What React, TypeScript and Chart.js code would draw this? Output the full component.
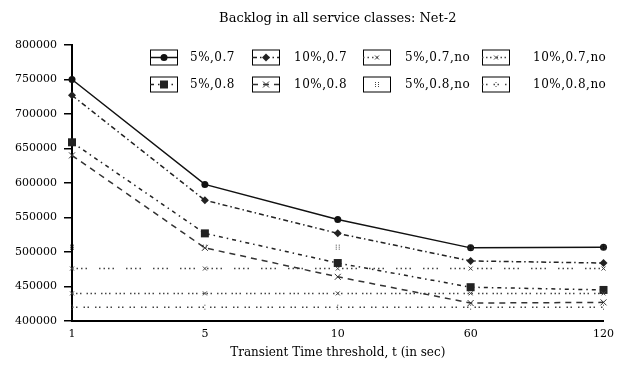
import React, { useEffect, useRef } from "react";
import { Chart, registerables } from "chart.js";
Chart.register(...registerables);

const categories = ["1", "5", "10", "60", "120"];
const s5p07 = [750000, 598000, 547000, 506000, 507000];
const s10p07 = [727000, 575000, 527000, 487000, 484000];
const s5p08 = [659000, 527000, 484000, 449000, 445000];
const s10p08 = [640000, 506000, 464000, 426000, 427000];
const s5p07no = [476000, 476000, 476000, 476000, 476000];
const s10p07no = [440000, 440000, 440000, 440000, 440000];
const s5p08no = [507000, 507000, 507000, 507000, 507000];
const s10p08no = [420000, 420000, 420000, 420000, 420000];
const yMin = 400000;
const yMax = 800000;
const yStep = 50000;

const titleText = "Backlog in all service classes: Net-2";
const xTitle = "Transient Time threshold, t (in sec)";
const FONT = "'DejaVu Serif', 'Liberation Serif', serif";

function drawMarker(ctx: CanvasRenderingContext2D, style: string, x: number, y: number, r: number, color: string) {
  ctx.save();
  ctx.fillStyle = color;
  ctx.strokeStyle = color;
  ctx.lineWidth = 1;
  ctx.setLineDash([]);
  ctx.beginPath();
  if (style === "circle") {
    ctx.arc(x, y, r, 0, Math.PI * 2);
    ctx.fill();
  } else if (style === "rect") {
    ctx.rect(x - r, y - r, 2 * r, 2 * r);
    ctx.fill();
  } else if (style === "rectRot") {
    ctx.moveTo(x, y - r);
    ctx.lineTo(x + r, y);
    ctx.lineTo(x, y + r);
    ctx.lineTo(x - r, y);
    ctx.closePath();
    ctx.fill();
  } else if (style === "crossRot") {
    ctx.moveTo(x - r, y - r);
    ctx.lineTo(x + r, y + r);
    ctx.moveTo(x + r, y - r);
    ctx.lineTo(x - r, y + r);
    ctx.stroke();
  } else if (style === "dots") {
    for (let i = -1; i <= 1; i++) {
      ctx.fillRect(x - 2, y + i * 2 - 0.5, 1, 1);
      ctx.fillRect(x + 1, y + i * 2 - 0.5, 1, 1);
    }
  } else if (style === "colon") {
    ctx.fillRect(x - 0.5, y - 2.5, 1, 1);
    ctx.fillRect(x - 0.5, y + 1.5, 1, 1);
  }
  ctx.restore();
}

const legendPlugin = {
  id: "customLegend",
  afterDraw(chart: any) {
    const ctx: any = chart.ctx;
    const boxX = [150, 252, 363, 482];
    const textX = [190, 294, 405, 533];
    const rowY = [57, 84];
    const order = [[0, 1, 4, 5], [2, 3, 6, 7]];
    ctx.save();
    ctx.font = `12px ${FONT}`;
    ctx.letterSpacing = "0.5px";
    ctx.textBaseline = "middle";
    ctx.fillStyle = "#000";
    for (let r = 0; r < 2; r++) {
      for (let c = 0; c < 4; c++) {
        const ds = chart.data.datasets[order[r][c]];
        const bx = boxX[c];
        const cy = rowY[r];
        const w = 27;
        const h = 15;
        ctx.setLineDash([]);
        ctx.strokeStyle = "#000";
        ctx.lineWidth = 1;
        ctx.strokeRect(bx + 0.5, cy - h / 2 + 0.5, w, h);
        if (ds.legendLine !== false) {
          ctx.beginPath();
          ctx.strokeStyle = ds.borderColor;
          ctx.lineWidth = ds.borderWidth;
          ctx.setLineDash(ds.borderDash || []);
          ctx.moveTo(bx, cy + 0.5);
          ctx.lineTo(bx + w, cy + 0.5);
          ctx.stroke();
          ctx.setLineDash([]);
        }
        drawMarker(ctx, ds.markerStyle, bx + w / 2 + 0.5, cy + 0.5, ds.markerR, ds.borderColor);
        ctx.fillStyle = "#000";
        ctx.fillText(ds.label, textX[c], cy + 1);
      }
    }
    ctx.restore();
  },
};

const markerPlugin = {
  id: "markers",
  afterDatasetsDraw(chart: any) {
    const ctx: CanvasRenderingContext2D = chart.ctx;
    chart.data.datasets.forEach((ds: any, i: number) => {
      const meta = chart.getDatasetMeta(i);
      meta.data.forEach((pt: any) => {
        drawMarker(ctx, ds.markerStyle, pt.x, pt.y, ds.markerR, ds.borderColor);
      });
    });
  },
};

const titlePlugin = {
  id: "topTitle",
  afterDraw(chart: any) {
    const ctx: CanvasRenderingContext2D = chart.ctx;
    const a = chart.chartArea;
    ctx.save();
    ctx.font = `13px ${FONT}`;
    ctx.fillStyle = "#000";
    ctx.textAlign = "center";
    ctx.textBaseline = "middle";
    ctx.fillText(titleText, (a.left + a.right) / 2, 19);
    ctx.restore();
  },
};

export default function App() {
  const ref = useRef<HTMLCanvasElement | null>(null);
  useEffect(() => {
    if (!ref.current) return;
    const mk = (label: string, data: number[], dash: number[], width: number, color: string, markerStyle: string, markerR: number, extra: any = {}) => ({
      label,
      data,
      borderColor: color,
      backgroundColor: color,
      borderWidth: width,
      borderDash: dash,
      pointRadius: 0,
      pointHoverRadius: 0,
      tension: 0,
      fill: false,
      markerStyle,
      markerR,
      ...extra,
    });
    const datasets: any[] = [
      mk("5%,0.7", s5p07, [], 1.5, "#111", "circle", 3.5),
      mk("10%,0.7", s10p07, [5, 3, 1.5, 3], 1.5, "#222", "rectRot", 4),
      mk("5%,0.8", s5p08, [4, 4, 1.5, 4], 1.5, "#222", "rect", 4),
      mk("10%,0.8", s10p08, [6, 5], 1.5, "#333", "crossRot", 3),
      mk("5%,0.7,no", s5p07no, [1.5, 3, 1.5, 3, 1.5, 3, 1.5, 12], 1.5, "#444", "crossRot", 2),
      mk("10%,0.7,no", s10p07no, [1.5, 2.5, 1.5, 2.5, 1.5, 5], 1.5, "#444", "crossRot", 2),
      mk("5%,0.8,no", s5p08no, [], 1, "#444", "dots", 2, { showLine: false, legendLine: false }),
      mk("10%,0.8,no", s10p08no, [1.5, 2.5, 1.5, 6], 1.5, "#444", "colon", 2),
    ];
    const chart = new Chart(ref.current, {
      type: "line",
      data: { labels: categories, datasets },
      options: {
        animation: false,
        responsive: false,
        devicePixelRatio: 1,
        events: [],
        layout: { padding: { top: 45, right: 15, left: 0, bottom: 0 } },
        plugins: { legend: { display: false }, tooltip: { enabled: false }, title: { display: false } },
        scales: {
          x: {
            type: "category",
            offset: false,
            grid: { display: false, drawTicks: false },
            border: { display: true, color: "#000", width: 2 },
            ticks: { color: "#000", font: { family: FONT, size: 11 }, padding: 7, autoSkip: false, maxRotation: 0 },
            title: { display: true, text: xTitle, color: "#000", font: { family: FONT, size: 12 }, padding: { top: 0, bottom: 6 } },
            afterFit: (s: any) => { s.height = 45; },
          },
          y: {
            min: yMin,
            max: yMax,
            grid: { drawOnChartArea: false, drawTicks: true, tickLength: 8, color: "#000", lineWidth: 1.5 },
            border: { display: true, color: "#000", width: 2 },
            ticks: { stepSize: yStep, color: "#000", font: { family: FONT, size: 11 }, padding: 7, callback: (v: any) => String(v) },
            afterFit: (s: any) => { s.width = 72; },
          },
        },
      },
      plugins: [markerPlugin, legendPlugin, titlePlugin],
    });
    return () => chart.destroy();
  }, []);
  return (
    <div style={{ position: "fixed", left: 0, top: 0, width: 621, height: 366, background: "#fff" }}>
      <canvas ref={ref} width={621} height={366} />
    </div>
  );
}
